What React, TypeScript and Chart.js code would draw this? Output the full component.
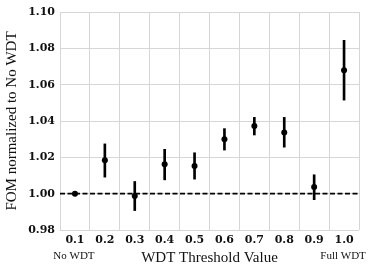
import React, { useEffect, useRef } from "react";
import { Chart, registerables } from "chart.js";

Chart.register(...registerables);

const thresholds = [0.1, 0.2, 0.3, 0.4, 0.5, 0.6, 0.7, 0.8, 0.9, 1.0];
const fomMean = [1.0, 1.0184, 0.9987, 1.0162, 1.0152, 1.03, 1.0372, 1.0337, 1.0037, 1.0679];
const fomLow = [1.0, 1.0091, 0.9907, 1.0076, 1.008, 1.024, 1.0323, 1.0256, 0.9967, 1.0515];
const fomHigh = [1.0, 1.0274, 1.0067, 1.0244, 1.0225, 1.0358, 1.042, 1.042, 1.0104, 1.0844];
const yTicks = [0.98, 1.0, 1.02, 1.04, 1.06, 1.08, 1.1];
const extraLabels = [
  { x: 0.1, text: "No WDT" },
  { x: 1.0, text: "Full WDT" },
];
const baselineValue = 1.0;
const xRange = [0.05, 1.05];

export default function App() {
  const ref = useRef<HTMLCanvasElement | null>(null);

  useEffect(() => {
    document.body.style.margin = "0";
    const canvas = ref.current;
    if (!canvas) return;

    const labelPlugin = {
      id: "extraLabels",
      afterDraw(chart: any) {
        const ctx = chart.ctx;
        const xs = chart.scales.x;
        ctx.save();
        ctx.font = '11px "Liberation Serif"';
        ctx.fillStyle = "#111";
        ctx.textAlign = "center";
        ctx.textBaseline = "middle";
        for (const l of extraLabels) {
          ctx.fillText(l.text, xs.getPixelForValue(l.x) - 1, 256);
        }
        ctx.restore();
      },
    };

    const chart = new Chart(canvas, {
      type: "bar",
      data: {
        datasets: [
          {
            type: "line",
            data: [
              { x: xRange[0], y: baselineValue },
              { x: xRange[1], y: baselineValue },
            ],
            borderColor: "#000",
            borderWidth: 1.6,
            borderDash: [5, 2.5],
            pointRadius: 0,
            order: 3,
          } as any,
          {
            type: "bar",
            data: thresholds.map((t, i) => ({ x: t, y: [fomLow[i], fomHigh[i]] })),
            backgroundColor: "#000",
            barThickness: 2,
            borderWidth: 0,
            borderSkipped: false,
            order: 2,
          } as any,
          {
            type: "scatter",
            data: thresholds.map((t, i) => ({ x: t, y: fomMean[i] })),
            backgroundColor: "#000",
            borderColor: "#000",
            pointRadius: 3,
            borderWidth: 0,
            order: 1,
          } as any,
        ],
      },
      options: {
        animation: false,
        responsive: true,
        maintainAspectRatio: false,
        layout: { padding: { top: 12, right: 15, left: 0, bottom: 0 } },
        plugins: { legend: { display: false }, tooltip: { enabled: false } },
        scales: {
          x: {
            type: "linear",
            min: xRange[0],
            max: xRange[1],
            offset: false,
            border: { display: false },
            grid: { color: "#d6d6d6", lineWidth: 1, drawTicks: false },
            afterBuildTicks(scale: any) {
              scale.ticks = thresholds.map((v) => ({ value: v }));
            },
            afterFit(scale: any) {
              scale.height = 43;
            },
            ticks: {
              padding: 4,
              color: "#111",
              font: { family: "DejaVu Serif", weight: "bold", size: 11 },
              callback: (v: any) => Number(v).toFixed(1),
              maxRotation: 0,
              autoSkip: false,
            },
            title: {
              display: true,
              text: "WDT Threshold Value",
              color: "#111",
              font: { family: "Liberation Serif", size: 15 },
              padding: { top: 0, bottom: 6 },
            },
          },
          y: {
            type: "linear",
            min: yTicks[0],
            max: yTicks[yTicks.length - 1],
            border: { display: false },
            grid: { color: "#d6d6d6", lineWidth: 1, drawTicks: false },
            afterBuildTicks(scale: any) {
              scale.ticks = yTicks.map((v) => ({ value: v }));
            },
            afterFit(scale: any) {
              scale.width = 60;
            },
            ticks: {
              padding: 5,
              color: "#111",
              font: { family: "DejaVu Serif", weight: "bold", size: 11 },
              callback: (v: any) => Number(v).toFixed(2),
            },
            title: {
              display: true,
              text: "FOM normalized to No WDT",
              color: "#111",
              font: { family: "Liberation Serif", size: 15 },
              padding: { top: 3, bottom: 0 },
            },
          },
        },
      },
      plugins: [labelPlugin],
    });

    return () => chart.destroy();
  }, []);

  return (
    <div style={{ width: 374, height: 273, position: "relative" }}>
      <canvas ref={ref} />
    </div>
  );
}
